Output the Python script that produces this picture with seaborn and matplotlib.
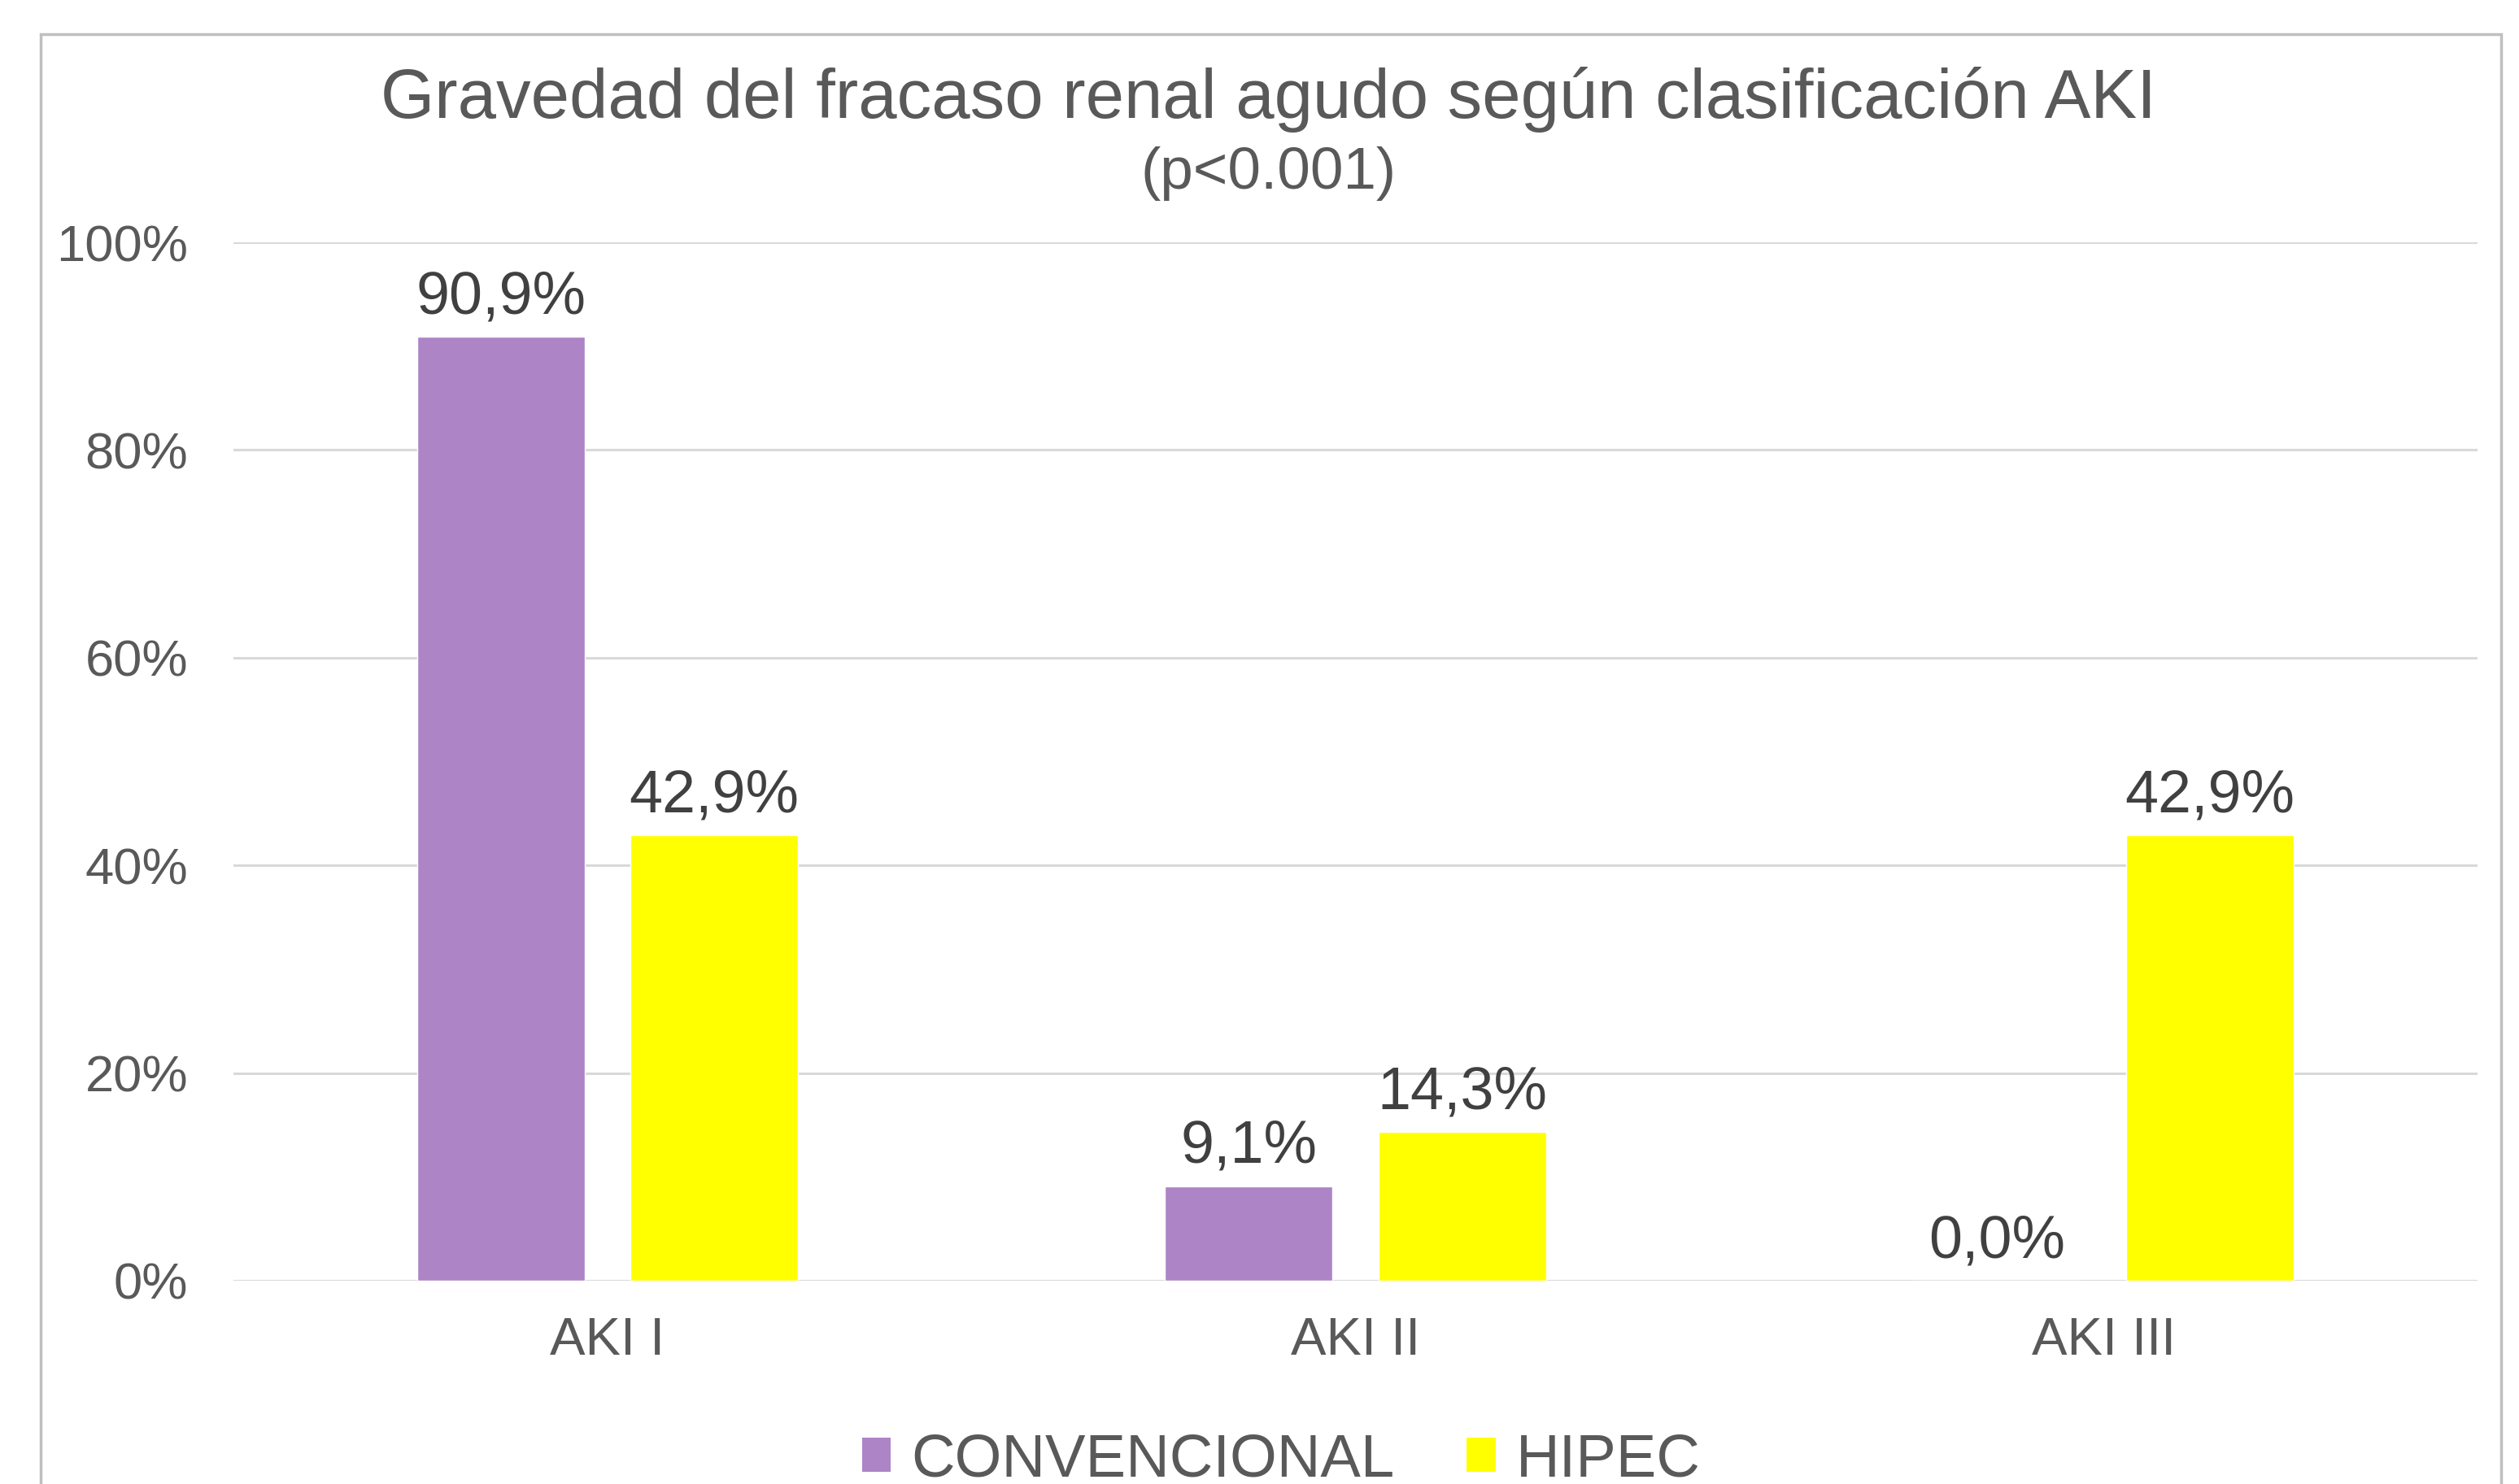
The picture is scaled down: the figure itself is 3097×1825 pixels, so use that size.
import pandas as pd
import matplotlib.pyplot as plt
import matplotlib.patches as mpatches
import seaborn as sns

# data
categorias = ["AKI I", "AKI II", "AKI III"]
convencional = [90.9, 9.1, 0.0]
hipec = [42.9, 14.3, 42.9]
grupos = ["CONVENCIONAL", "HIPEC"]
y_ticks = [0, 20, 40, 60, 80, 100]

colores = ["#AD84C6", "#FFFF00"]
GRIS_TEXTO = "#595959"
GRIS_ETIQ = "#404040"
GRIS_REJILLA = "#D9D9D9"

df = pd.DataFrame({
    "categoria": categorias * 2,
    "valor": convencional + hipec,
    "grupo": [grupos[0]] * 3 + [grupos[1]] * 3,
})

sns.set_theme(style="white")
plt.rcParams["font.family"] = ["Liberation Sans", "DejaVu Sans"]

W, H = 3097, 1825
fig = plt.figure(figsize=(W / 100, H / 100), dpi=100)
ax = fig.add_axes([287 / W, 1 - 1575 / H, (3046 - 287) / W, (1575 - 298) / H])

sns.barplot(data=df, x="categoria", y="valor", hue="grupo", palette=colores,
            width=0.57, gap=0.214, ax=ax, saturation=1, legend=False)

# data labels with comma decimals
for cont in ax.containers:
    etiquetas = [f"{b.get_height():.1f}%".replace(".", ",") for b in cont]
    ax.bar_label(cont, labels=etiquetas, padding=10, fontsize=53, color=GRIS_ETIQ)

ax.set_ylim(0, 100)
ax.set_yticks(y_ticks)
ax.set_yticklabels([f"{t}%" for t in y_ticks])
ax.set_xlabel("")
ax.set_ylabel("")
ax.grid(axis="y", color=GRIS_REJILLA, linewidth=2.2)
ax.set_axisbelow(True)
for s in ax.spines.values():
    s.set_visible(False)
ax.tick_params(axis="y", labelsize=45.5, labelcolor=GRIS_TEXTO, length=0, pad=40)
ax.tick_params(axis="x", labelsize=47, labelcolor=GRIS_TEXTO, length=0, pad=32)

# titles
fig.text(0.5035, 1 - 145 / H, "Gravedad del fracaso renal agudo según clasificación AKI",
         ha="center", va="baseline", fontsize=61.3, color=GRIS_TEXTO)
fig.text(0.5035, 1 - 232 / H, "(p<0.001)", ha="center", va="baseline",
         fontsize=52.5, color=GRIS_TEXTO)

# legend
handles = [mpatches.Patch(facecolor=c, edgecolor="none") for c in colores]
fig.legend(handles, grupos, loc="center", bbox_to_anchor=(1575 / W, 1 - 1796 / H),
           ncol=2, frameon=False, fontsize=53.5, labelcolor=GRIS_TEXTO,
           handlelength=0.48, handleheight=0.5, handletextpad=0.33,
           columnspacing=1.2)

# outer chart frame
fig.patches.append(mpatches.Rectangle((50 / W, -0.01), (3075 - 50) / W, 1 - 42 / H + 0.01,
                                      transform=fig.transFigure, fill=False,
                                      edgecolor="#BFBFBF", linewidth=2.5))

fig.savefig("out.png", dpi=100)
